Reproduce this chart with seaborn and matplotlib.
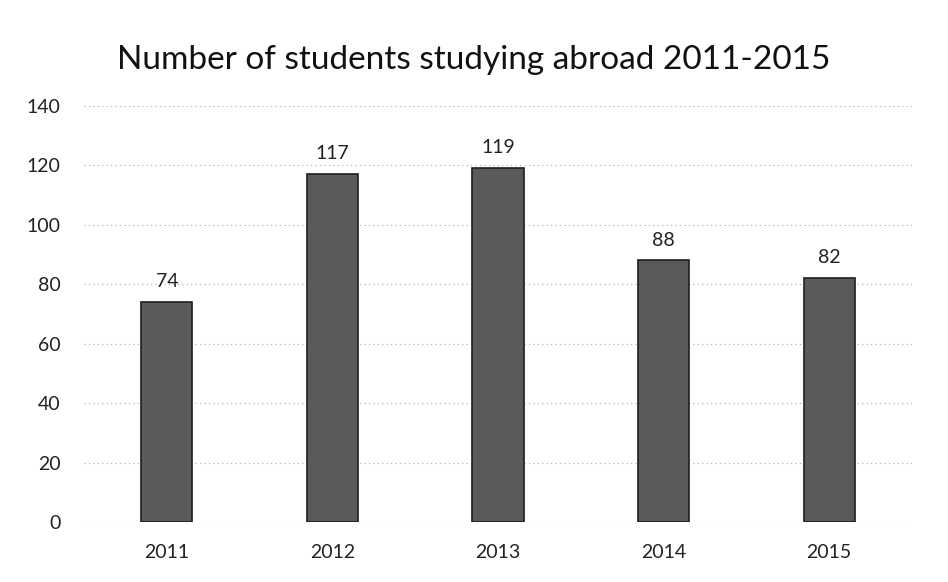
import pandas as pd
import matplotlib.pyplot as plt
import seaborn as sns

years = ['2011', '2012', '2013', '2014', '2015']
students = [74, 117, 119, 88, 82]

df = pd.DataFrame({'year': years, 'students': students})

sns.set_style('white')
plt.rcParams['font.family'] = ['Lato', 'DejaVu Sans']

fig = plt.figure(figsize=(9.48, 5.82), dpi=100)
ax = fig.add_axes([0.0886, 0.103, 0.8734, 0.715])

sns.barplot(data=df, x='year', y='students', color='#5a5a5a',
            edgecolor='#1e1e1e', linewidth=1.2, width=0.31, saturation=1, ax=ax)

# 数据标签
for i, v in enumerate(students):
    ax.text(i, v + 4, str(v), ha='center', va='bottom', fontsize=14, color='#222222')

ax.set_ylim(0, 140)
ax.set_yticks(range(0, 141, 20))
ax.yaxis.grid(True, linestyle=(0, (1, 3)), color='#a8a8a8', linewidth=0.8)
ax.set_axisbelow(True)
for s in ax.spines.values():
    s.set_visible(False)
ax.set_xlabel('')
ax.set_ylabel('')
ax.tick_params(axis='both', length=0, labelsize=14, labelcolor='#222222')
ax.tick_params(axis='y', pad=17)
ax.tick_params(axis='x', pad=16)

fig.text(0.5, 0.897, 'Number of students studying abroad 2011-2015', fontsize=24,
         ha='center', va='center', color='#111111')

fig.savefig('out.png', dpi=100, facecolor='white')
